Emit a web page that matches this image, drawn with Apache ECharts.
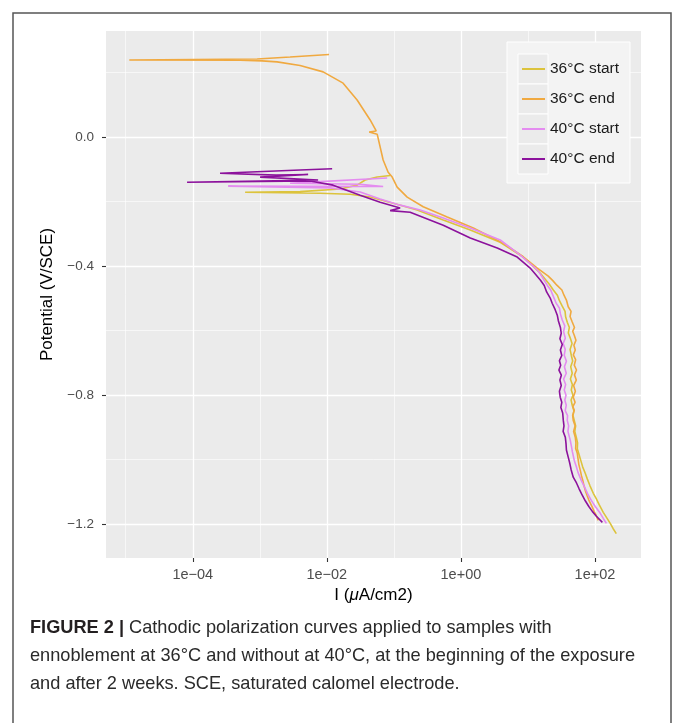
<!DOCTYPE html>
<html><head><meta charset="utf-8">
<script src="https://cdn.jsdelivr.net/npm/echarts@6/dist/echarts.min.js"></script>
<style>html,body{margin:0;padding:0;background:#fff;}#c{width:673px;height:723px;}</style>
</head><body><div id="c"></div>
<script>
const seriesNames = ['36°C start', '36°C end', '40°C start', '40°C end'];
const seriesColors = ['#DCC33C', '#F0A940', '#E48CF0', '#8C129C'];

const current36Start = [8.81e-2, 5.64e-2, 3.73e-2, 2.83e-2, 1.58e-2, 3.99e-3, 6.04e-4, 7.94e-3, 2.23e-2, 4.43e-2, 9.77e-2, 0.223, 0.545, 1.38, 3.86, 8.51, 15.3, 18.0, 21.0, 23.9, 27.5, 29.5, 32.5, 35.8, 36.5, 38.6, 41.5, 40.0, 42.8, 45.5, 42.5, 44.3, 46.5, 43.5, 45.8, 43.0, 46.0, 44.3, 47.0, 44.0, 45.8, 48.5, 47.0, 49.1, 51.5, 50.0, 52.6, 55.0, 54.5, 58.3, 62.0, 65.5, 71.6, 77.0, 84.0, 94.4, 104, 116, 133, 150, 169, 186, 208];
const potential36Start = [-0.119, -0.124, -0.133, -0.149, -0.161, -0.169, -0.171, -0.174, -0.177, -0.186, -0.205, -0.226, -0.257, -0.288, -0.326, -0.372, -0.422, -0.440, -0.457, -0.474, -0.490, -0.507, -0.524, -0.540, -0.557, -0.574, -0.590, -0.607, -0.623, -0.640, -0.658, -0.676, -0.694, -0.712, -0.732, -0.750, -0.767, -0.784, -0.800, -0.815, -0.831, -0.848, -0.863, -0.878, -0.895, -0.912, -0.930, -0.948, -0.966, -0.986, -1.005, -1.022, -1.042, -1.060, -1.080, -1.104, -1.120, -1.140, -1.163, -1.180, -1.197, -1.213, -1.229];

const current36End = [1.08e-2, 2.83e-3, 9.12e-4, 1.13e-5, 5.08e-4, 1.08e-3, 1.81e-3, 3.99e-3, 8.81e-3, 1.75e-2, 2.83e-2, 4.43e-2, 5.45e-2, 4.28e-2, 5.64e-2, 6.92e-2, 8.22e-2, 9.44e-2, 0.112, 0.158, 0.274, 0.625, 1.53, 4.28, 8.51, 13.8, 20.1, 23.5, 27.0, 32.1, 34.5, 37.5, 39.9, 44.0, 42.5, 45.8, 49.5, 46.5, 49.1, 52.0, 48.5, 50.8, 47.5, 51.5, 49.1, 53.0, 49.5, 52.6, 48.0, 51.0, 47.4, 50.5, 46.8, 49.1, 46.5, 47.4, 50.5, 48.0, 50.8, 52.0, 51.5, 54.5, 56.0, 57.5, 60.4, 63.0, 66.0, 68.5, 71.6, 76.0, 81.0, 91.2, 97, 104, 112];
const potential36End = [0.256, 0.248, 0.242, 0.239, 0.238, 0.236, 0.233, 0.222, 0.202, 0.167, 0.115, 0.053, 0.019, 0.0155, 0.009, -0.071, -0.109, -0.124, -0.155, -0.186, -0.216, -0.248, -0.282, -0.329, -0.371, -0.406, -0.431, -0.445, -0.459, -0.474, -0.490, -0.505, -0.526, -0.540, -0.556, -0.573, -0.590, -0.602, -0.614, -0.630, -0.645, -0.660, -0.675, -0.690, -0.707, -0.722, -0.737, -0.753, -0.770, -0.788, -0.806, -0.822, -0.835, -0.847, -0.862, -0.878, -0.895, -0.912, -0.930, -0.948, -0.965, -0.980, -0.998, -1.015, -1.033, -1.050, -1.065, -1.080, -1.095, -1.110, -1.125, -1.147, -1.160, -1.172, -1.188];

const current40Start = [7.94e-2, 7.94e-3, 2.83e-3, 3.14e-2, 6.92e-2, 3.37e-4, 1.12e-2, 3.14e-2, 6.25e-2, 0.124, 0.247, 0.545, 1.38, 3.86, 7.67, 12.9, 14.8, 17.0, 19.4, 22.0, 23.5, 26.4, 29.5, 30.5, 32.5, 35.5, 34.0, 36.1, 33.5, 36.0, 34.8, 37.5, 35.0, 37.3, 34.0, 36.5, 34.8, 37.0, 35.5, 37.3, 36.0, 39.0, 38.6, 40.5, 39.5, 42.8, 44.5, 46.0, 49.1, 52.5, 56.0, 62.5, 70.0, 77.5, 88.1, 101, 120, 133, 148];
const potential40Start = [-0.127, -0.138, -0.143, -0.146, -0.153, -0.152, -0.158, -0.170, -0.192, -0.211, -0.226, -0.251, -0.282, -0.319, -0.366, -0.406, -0.420, -0.440, -0.459, -0.475, -0.490, -0.515, -0.530, -0.548, -0.567, -0.585, -0.603, -0.623, -0.640, -0.658, -0.676, -0.695, -0.712, -0.732, -0.750, -0.767, -0.784, -0.800, -0.815, -0.831, -0.848, -0.863, -0.878, -0.895, -0.912, -0.940, -0.958, -0.975, -1.002, -1.020, -1.040, -1.064, -1.085, -1.105, -1.126, -1.145, -1.166, -1.182, -1.197];

const current40End = [1.20e-2, 3.99e-3, 2.55e-4, 1.75e-3, 5.26e-3, 1.01e-3, 7.41e-3, 8.22e-5, 5.64e-3, 1.24e-2, 3.14e-2, 6.25e-2, 0.124, 8.81e-2, 0.175, 0.545, 1.38, 3.48, 6.92, 10.8, 15.3, 17.5, 19.0, 21.5, 23.0, 25.5, 27.4, 28.5, 30.5, 31.4, 30.0, 32.5, 30.5, 32.0, 29.5, 30.8, 29.0, 31.5, 30.0, 31.4, 29.5, 30.3, 32.0, 31.0, 33.0, 33.7, 34.5, 33.5, 36.1, 37.0, 37.5, 39.9, 42.0, 44.0, 47.4, 53.0, 58.0, 64.6, 72.0, 81.0, 91.2, 105, 129];
const potential40End = [-0.098, -0.102, -0.112, -0.118, -0.116, -0.124, -0.133, -0.140, -0.136, -0.149, -0.180, -0.202, -0.220, -0.228, -0.233, -0.273, -0.313, -0.344, -0.372, -0.406, -0.443, -0.460, -0.480, -0.499, -0.515, -0.535, -0.552, -0.570, -0.590, -0.608, -0.625, -0.643, -0.660, -0.677, -0.693, -0.707, -0.722, -0.738, -0.753, -0.770, -0.788, -0.806, -0.822, -0.838, -0.855, -0.878, -0.895, -0.912, -0.930, -0.950, -0.970, -0.992, -1.010, -1.030, -1.054, -1.072, -1.090, -1.110, -1.128, -1.145, -1.160, -1.175, -1.194];

const xMajorTicks = [1e-4, 1e-2, 1, 100];
const xMajorLabels = ['1e\u221204', '1e\u221202', '1e+00', '1e+02'];
const xMinorTicks = [1e-5, 1e-3, 1e-1, 10];
const yMajorTicks = [0, -0.4, -0.8, -1.2];
const yMajorLabels = ['0.0', '\u22120.4', '\u22120.8', '\u22121.2'];
const yMinorTicks = [0.2, -0.2, -0.6, -1.0];
const xRange = [5.08e-6, 486];
const yRange = [-1.3045, 0.3287];

const currents = [current36Start, current36End, current40Start, current40End];
const potentials = [potential36Start, potential36End, potential40Start, potential40End];

function pairs(xs, ys) {
  const n = Math.min(xs.length, ys.length);
  const out = [];
  for (let i = 0; i < n; i++) out.push([xs[i], ys[i]]);
  return out;
}
function xLabel(v) {
  for (let i = 0; i < xMajorTicks.length; i++) {
    if (Math.abs(Math.log10(v) - Math.log10(xMajorTicks[i])) < 0.01) return xMajorLabels[i];
  }
  return '';
}
function yLabel(v) {
  for (let i = 0; i < yMajorTicks.length; i++) {
    if (Math.abs(v - yMajorTicks[i]) < 1e-6) return yMajorLabels[i];
  }
  return '';
}

const FONT = 'Liberation Sans, Arial, sans-serif';
const chart = echarts.init(document.getElementById('c'), null, { renderer: 'canvas' });

const series = seriesNames.map((name, k) => ({
  name: name,
  type: 'line',
  xAxisIndex: 0,
  yAxisIndex: 0,
  showSymbol: false,
  symbol: 'none',
  clip: true,
  z: 2 + k * 0.01,
  color: seriesColors[k],
  lineStyle: { color: seriesColors[k], width: 1.6 },
  emphasis: { disabled: true },
  data: pairs(currents[k], potentials[k])
}));

const keyRects = seriesNames.map((n, k) => ({
  type: 'rect', z: 3,
  shape: { x: 518, y: 54 + 30 * k, width: 30, height: 30 },
  style: { fill: '#EBEBEB', stroke: '#FFFFFF', lineWidth: 1 }
}));

chart.setOption({
  animation: false,
  textStyle: { fontFamily: FONT },
  grid: { left: 106, right: 32, top: 31, bottom: 165, show: true, backgroundColor: '#EBEBEB', borderWidth: 0, containLabel: false },
  xAxis: [{
    type: 'log', logBase: 10, min: xRange[0], max: xRange[1], position: 'bottom',
    axisLine: { show: false, onZero: false },
    axisTick: { show: true, length: 4, lineStyle: { color: '#333333', width: 1.1 }, customValues: xMajorTicks },
    axisLabel: { customValues: xMajorTicks, formatter: xLabel, color: '#4D4D4D', fontSize: 14.5, margin: 9, fontFamily: FONT },
    splitLine: { show: true, lineStyle: { color: '#FFFFFF', width: 1.3 } },
    minorSplitLine: { show: false },
    name: '{n|I (}{i|\u03bc}{n|A/cm2)}', nameLocation: 'middle', nameGap: 29,
    nameTextStyle: { rich: { n: { fontSize: 17, color: '#000', fontFamily: FONT }, i: { fontSize: 17, color: '#000', fontStyle: 'italic', fontFamily: FONT } } }
  }, {
    type: 'log', logBase: 10, min: xRange[0], max: xRange[1], position: 'top',
    axisLine: { show: false, onZero: false },
    axisTick: { show: false, customValues: xMinorTicks },
    axisLabel: { show: false, customValues: xMinorTicks },
    splitLine: { show: true, lineStyle: { color: '#FFFFFF', width: 0.6 } }
  }],
  yAxis: [{
    type: 'value', min: yRange[0], max: yRange[1], position: 'left',
    axisLine: { show: false, onZero: false },
    axisTick: { show: true, length: 4, lineStyle: { color: '#333333', width: 1.1 }, customValues: yMajorTicks },
    axisLabel: { customValues: yMajorTicks, formatter: yLabel, color: '#4D4D4D', fontSize: 13.5, margin: 12, fontFamily: FONT },
    splitLine: { show: true, lineStyle: { color: '#FFFFFF', width: 1.3 } },
    name: 'Potential (V/SCE)', nameLocation: 'middle', nameGap: 50, nameRotate: 90,
    nameTextStyle: { fontSize: 17, color: '#000', fontFamily: FONT }
  }, {
    type: 'value', min: yRange[0], max: yRange[1], position: 'right',
    axisLine: { show: false, onZero: false },
    axisTick: { show: false, customValues: yMinorTicks },
    axisLabel: { show: false, customValues: yMinorTicks },
    splitLine: { show: true, lineStyle: { color: '#FFFFFF', width: 0.6 } }
  }],
  legend: {
    data: seriesNames, orient: 'vertical', left: 522, top: 61, padding: 0, itemGap: 14,
    icon: 'rect', itemWidth: 23, itemHeight: 2, z: 5,
    textStyle: { fontSize: 15.5, lineHeight: 16, color: '#1A1A1A', fontFamily: FONT },
    selectedMode: false, backgroundColor: 'transparent'
  },
  title: {
    left: 30, top: 614, padding: 0,
    text: '{b|FIGURE 2 |}{n| Cathodic polarization curves applied to samples with}\n{n|ennoblement at 36°C and without at 40°C, at the beginning of the exposure}\n{n|and after 2 weeks. SCE, saturated calomel electrode.}',
    textStyle: {
      rich: {
        b: { fontSize: 18.2, fontWeight: 'bold', color: '#231F20', lineHeight: 28, fontFamily: FONT },
        n: { fontSize: 18.2, fontWeight: 'normal', color: '#2A2A2A', lineHeight: 28, fontFamily: FONT }
      }
    }
  },
  graphic: [
    { type: 'rect', z: 3, shape: { x: 507, y: 42, width: 123, height: 141 }, style: { fill: '#F3F3F3', stroke: '#FFFFFF', lineWidth: 1 } }
  ].concat(keyRects).concat([
    { type: 'rect', z: 10, shape: { x: 13, y: 13, width: 658, height: 730 }, style: { fill: 'none', stroke: '#555555', lineWidth: 1.5 } }
  ]),
  series: series
});
</script>
</body></html>
